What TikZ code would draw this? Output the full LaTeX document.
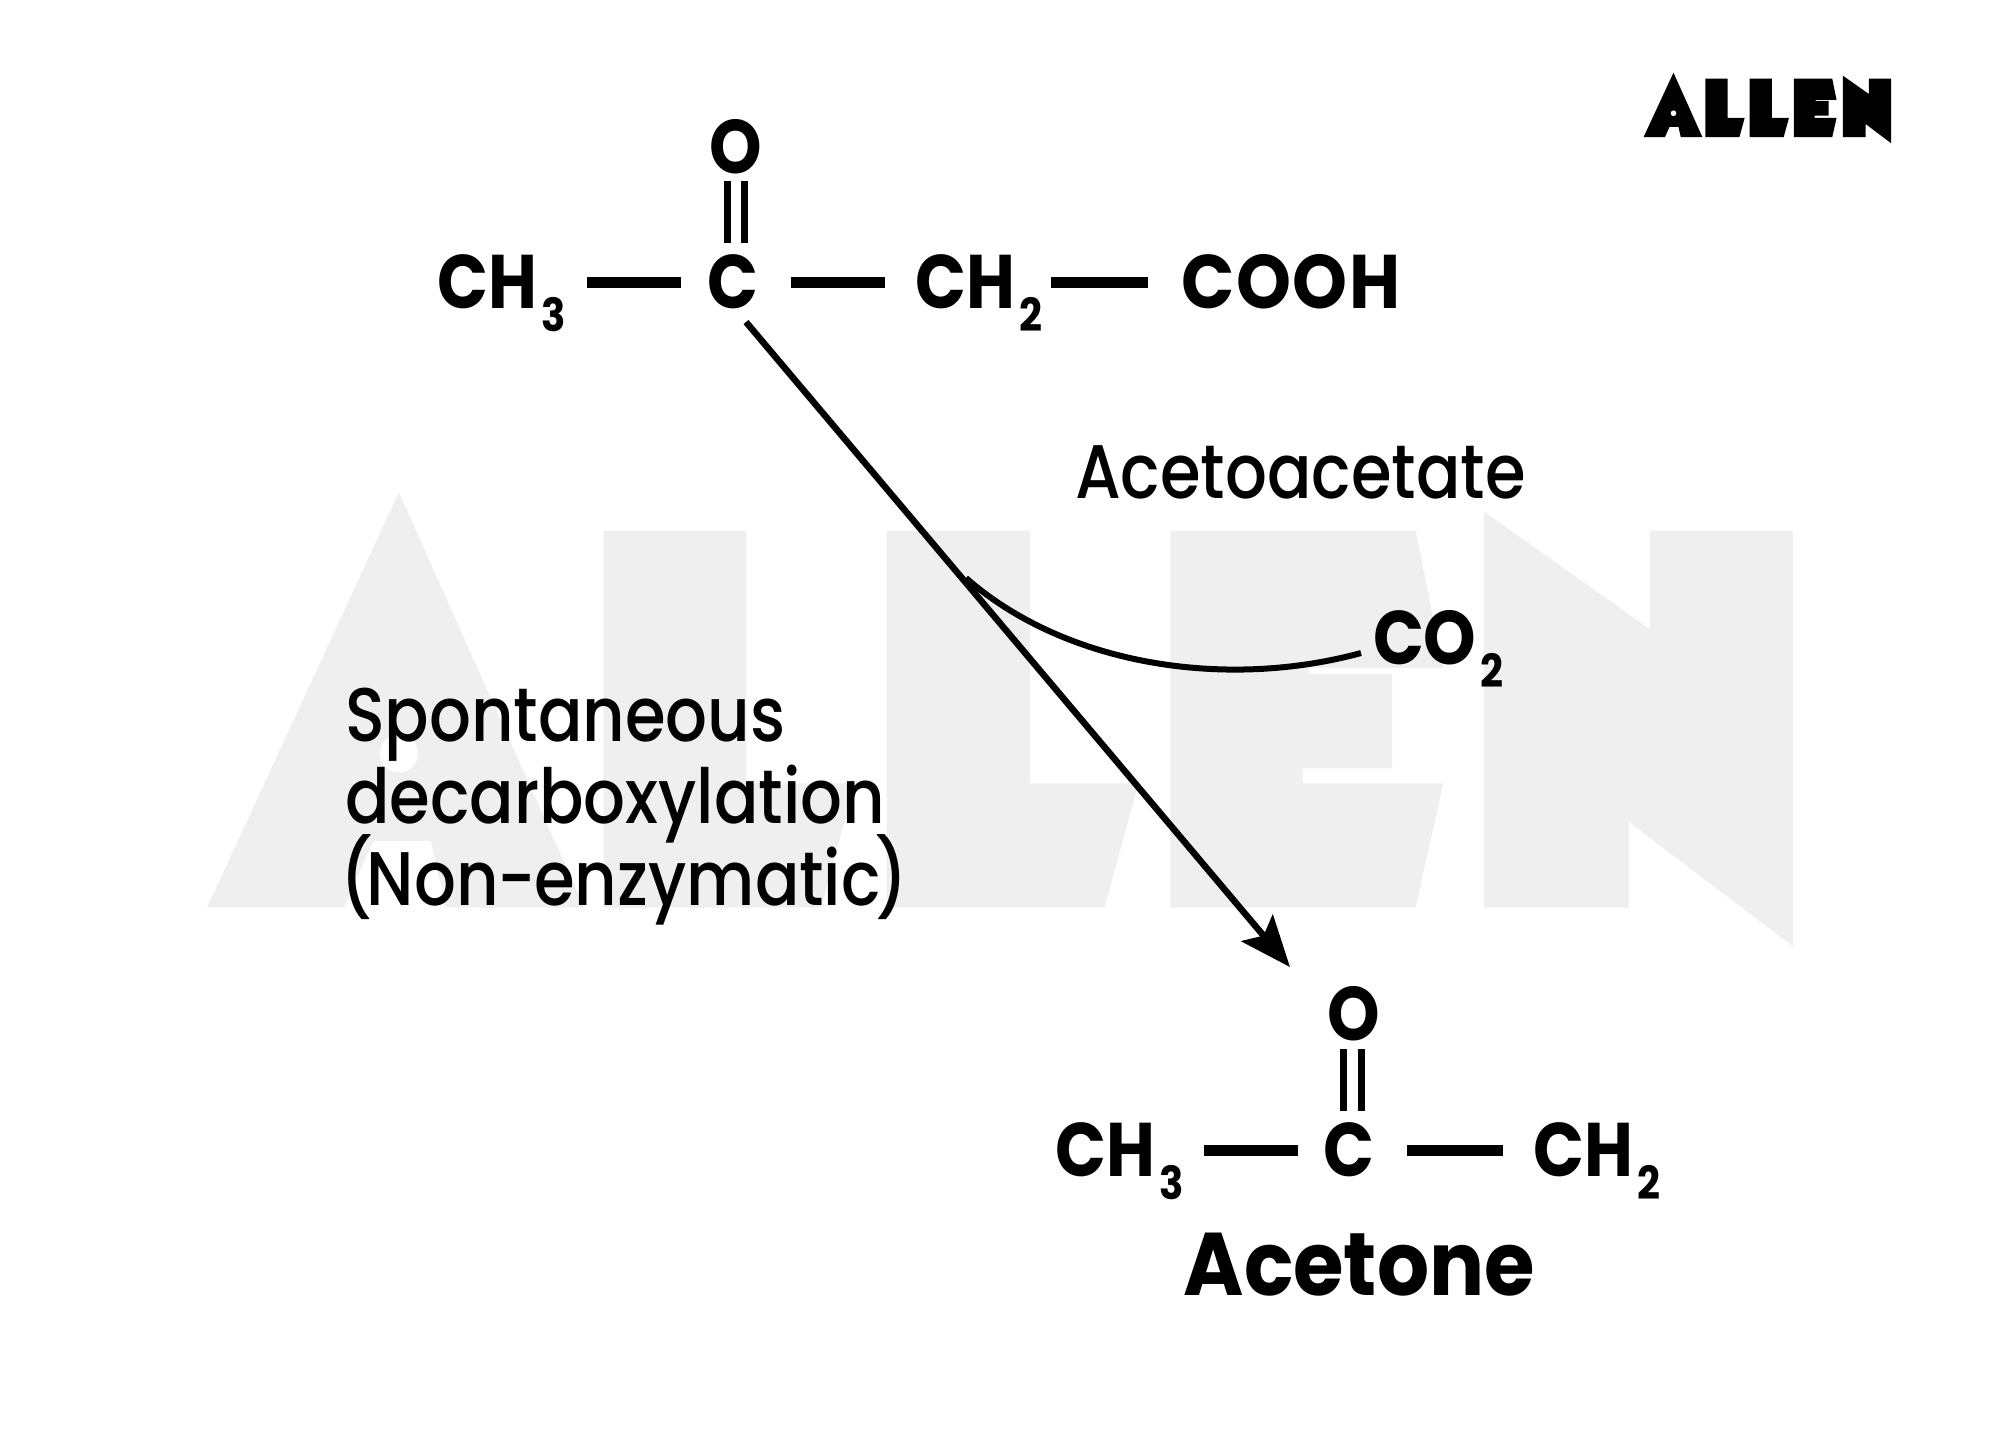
\documentclass[tikz,border=0pt]{standalone}
\usepackage{fontspec}
\usetikzlibrary{arrows.meta,calc}
\setmainfont{Poppins}
\newfontfamily\atomfont{Poppins}[BoldFont=* Bold,FakeStretch=0.88]
\newfontfamily\labelfont{Poppins Medium}[FakeStretch=0.865]
\newfontfamily\titlefont{Poppins}[BoldFont=* Bold,FakeStretch=0.92]
\def\u{0.2845pt}
\definecolor{wm}{HTML}{EFEFEF}
\newcommand{\allenlogo}[1]{%
  \fill[#1,even odd rule] (128,262)--(218,68)--(305,262)--(240,262)--(233,231)--(206,231)--(192,262)--cycle (218,190) circle (9);
  \fill[#1] (314,86)--(381,86)--(381,204)--(432,204)--(416,262)--(314,262)--cycle;
  \fill[#1] (447,86)--(514,86)--(514,204)--(565,204)--(549,262)--(447,262)--cycle;
  \fill[#1] (580,86)--(695,86)--(708,150)--(645,150)--(645,153)--(684,153)--(684,197)--(642,197)--(642,204)--(708,204)--(695,262)--(580,262)--cycle;
  \fill[#1] (727,77)--(805,132)--(805,86)--(872,86)--(872,280)--(795,222)--(795,262)--(727,262)--cycle;
}
\tikzset{
  atom/.style={inner sep=0pt,outer sep=0pt,font=\atomfont\bfseries\fontsize{21.6}{24}\selectfont,text height=15.08pt,text depth=0pt},
  label/.style={inner sep=0pt,outer sep=0pt,anchor=base west,font=\labelfont\fontsize{21.6}{24}\selectfont},
  bond/.style={line width=11*\u},
  dbl/.style={line width=7*\u},
  flow/.style={line width=6.5*\u},
}
\newcommand{\subs}[1]{\rlap{\hspace{1.2pt}\raisebox{-6.6pt}{\fontsize{13}{14}\selectfont #1}}}
\begin{document}
\begin{tikzpicture}[x=0.01cm,y=-0.01cm]
\useasboundingbox (0,0) rectangle (1999,1441);
\fill[white] (0,0) rectangle (1999,1441);
% watermark
\begin{scope}[xshift=-0.657cm,yshift=-3.465cm,x=0.0213cm,y=-0.02139cm]
\allenlogo{wm}
\end{scope}
% logo
\begin{scope}[xshift=16cm,yshift=-0.5cm,x=0.003333cm,y=-0.003333cm]
\allenlogo{black}
\end{scope}
% top chain
\node[atom] (ch3a) at (487,282) {CH\subs{3}};
\node[atom] (ca) at (733,282) {C};
\node[atom] (oa) at (736,147) {O};
\node[atom] (ch2a) at (965,282) {CH\subs{2}};
\node[atom,font=\titlefont\bfseries\fontsize{21.6}{24}\selectfont] (cooh) at (1291,282) {C\kern.5pt O\kern.5pt O\kern.5pt H};
\draw[bond,shorten <=50*\u,shorten >=27*\u] (ch3a) -- (ca);
\draw[bond,shorten <=33*\u,shorten >=30*\u] (ca) -- (ch2a);
\draw[bond,shorten <=36*\u,shorten >=33*\u] (ch2a) -- (cooh);
\draw[dbl,transform canvas={xshift=-8.5*\u}] (735.5,181) -- (735.5,243);
\draw[dbl,transform canvas={xshift=8.5*\u}] (735.5,181) -- (735.5,243);
% bottom chain
\node[atom] (ch3b) at (1105,1150) {CH\subs{3}};
\node[atom] (cb) at (1349,1150) {C};
\node[atom] (ob) at (1354,1014) {O};
\node[atom] (ch2b) at (1583,1150) {CH\subs{2}};
\draw[bond,shorten <=49*\u,shorten >=26*\u] (ch3b) -- (cb);
\draw[bond,shorten <=33*\u,shorten >=30*\u] (cb) -- (ch2b);
\draw[dbl,transform canvas={xshift=-9*\u}] (1352.5,1049) -- (1352.5,1111);
\draw[dbl,transform canvas={xshift=9*\u}] (1352.5,1049) -- (1352.5,1111);
\node[inner sep=0pt,anchor=base west,font=\titlefont\bfseries\fontsize{25.3}{28}\selectfont] (acetone) at (1183,1295) {Acetone};
% reaction arrow
\coordinate (arrowstart) at (746,322);
\coordinate (arrowtip) at (1290,967);
\draw[flow,-{Stealth[length=51*\u,width=41*\u,inset=10*\u]}] (arrowstart) -- (arrowtip);
\coordinate (branch) at (966,578);
\node[atom,anchor=west] (co) at (1373,637.5) {CO\subs{2}};
\draw[line width=6*\u] (branch) .. controls (1065,665) and (1225,690) .. (1361,653);
% labels
\node[label] (l0) at (1075,498) {Acetoacetate};
\node[label] (l1) at (345,741) {Spontaneous};
\node[label] (l2) at (345,823) {decarboxylation};
\node[label] (l3) at (345,905) {\kern-1.4pt(\kern-1.6pt Non\kern-0.4pt-\kern-0.4pt enzymatic\kern-1.6pt)};
\end{tikzpicture}
\end{document}
